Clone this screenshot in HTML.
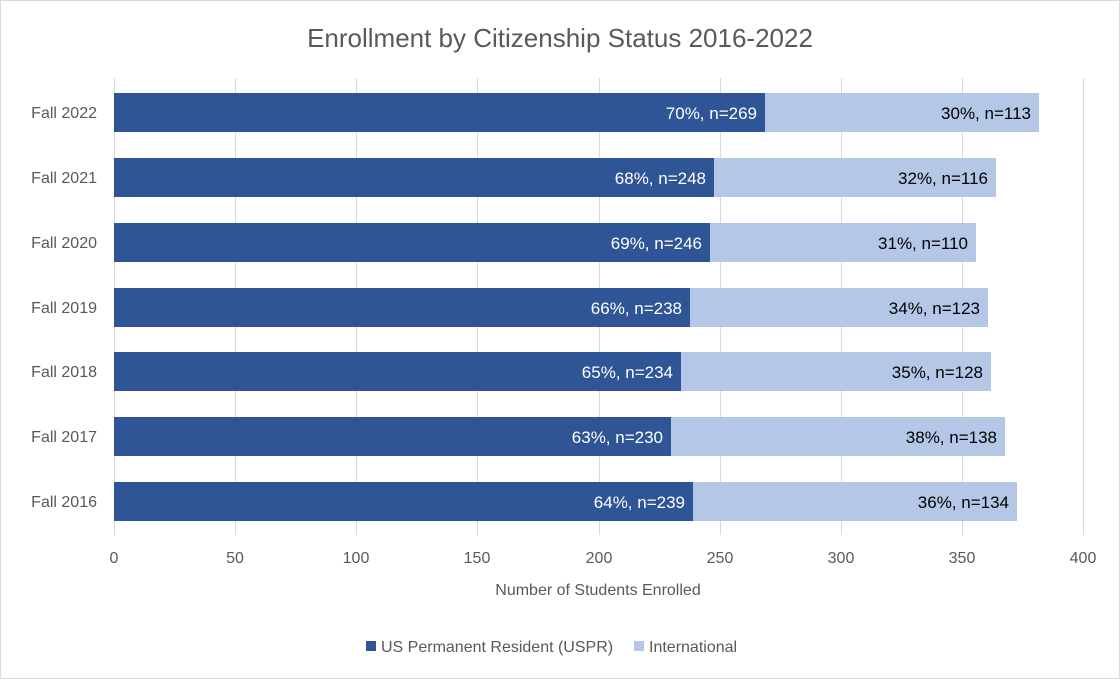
<!DOCTYPE html>
<html><head><meta charset="utf-8"><style>
body{margin:0;background:#fff;}
svg text{font-family:"Liberation Sans",Calibri,sans-serif;}
</style></head><body>
<svg width="1120" height="679" xmlns="http://www.w3.org/2000/svg">
<rect x="0.5" y="0.5" width="1119" height="678" fill="#fff" stroke="#d9d9d9"/>
<text x="560" y="47" font-size="26" fill="#595959" text-anchor="middle">Enrollment by Citizenship Status 2016-2022</text>
<g stroke="#d9d9d9" stroke-width="1">
<line x1="114.5" y1="78" x2="114.5" y2="535"/>
<line x1="235.5" y1="78" x2="235.5" y2="535"/>
<line x1="356.5" y1="78" x2="356.5" y2="535"/>
<line x1="477.5" y1="78" x2="477.5" y2="535"/>
<line x1="599.5" y1="78" x2="599.5" y2="535"/>
<line x1="720.5" y1="78" x2="720.5" y2="535"/>
<line x1="841.5" y1="78" x2="841.5" y2="535"/>
<line x1="962.5" y1="78" x2="962.5" y2="535"/>
<line x1="1083.5" y1="78" x2="1083.5" y2="535"/>
</g>
<g font-size="16" fill="#595959" text-anchor="middle">
<text x="114" y="563">0</text><text x="235" y="563">50</text><text x="356" y="563">100</text><text x="477" y="563">150</text><text x="599" y="563">200</text><text x="720" y="563">250</text><text x="841" y="563">300</text><text x="962" y="563">350</text><text x="1083" y="563">400</text>
<text x="598" y="595">Number of Students Enrolled</text>
</g>
<g font-size="16" fill="#595959" text-anchor="end">
<text x="97" y="118">Fall 2022</text><text x="97" y="183">Fall 2021</text><text x="97" y="248">Fall 2020</text><text x="97" y="313">Fall 2019</text><text x="97" y="377">Fall 2018</text><text x="97" y="442">Fall 2017</text><text x="97" y="507">Fall 2016</text>
</g>
<g>
<rect x="114" y="93" width="651" height="39" fill="#2F5597"/><rect x="765" y="93" width="274" height="39" fill="#B4C7E7"/>
<rect x="114" y="158" width="600" height="39" fill="#2F5597"/><rect x="714" y="158" width="282" height="39" fill="#B4C7E7"/>
<rect x="114" y="223" width="596" height="39" fill="#2F5597"/><rect x="710" y="223" width="266" height="39" fill="#B4C7E7"/>
<rect x="114" y="288" width="576" height="39" fill="#2F5597"/><rect x="690" y="288" width="298" height="39" fill="#B4C7E7"/>
<rect x="114" y="352" width="567" height="39" fill="#2F5597"/><rect x="681" y="352" width="310" height="39" fill="#B4C7E7"/>
<rect x="114" y="417" width="557" height="39" fill="#2F5597"/><rect x="671" y="417" width="334" height="39" fill="#B4C7E7"/>
<rect x="114" y="482" width="579" height="39" fill="#2F5597"/><rect x="693" y="482" width="324" height="39" fill="#B4C7E7"/>
</g>
<g font-size="17" fill="#fff" text-anchor="end">
<text x="757" y="119">70%, n=269</text><text x="706" y="184">68%, n=248</text><text x="702" y="249">69%, n=246</text><text x="682" y="314">66%, n=238</text><text x="673" y="378">65%, n=234</text><text x="663" y="443">63%, n=230</text><text x="685" y="508">64%, n=239</text>
</g>
<g font-size="17" fill="#000" text-anchor="end">
<text x="1031" y="119">30%, n=113</text><text x="988" y="184">32%, n=116</text><text x="968" y="249">31%, n=110</text><text x="980" y="314">34%, n=123</text><text x="983" y="378">35%, n=128</text><text x="997" y="443">38%, n=138</text><text x="1009" y="508">36%, n=134</text>
</g>
<rect x="366" y="641" width="10" height="10" fill="#2F5597"/>
<text x="381" y="652" font-size="16" fill="#595959">US Permanent Resident (USPR)</text>
<rect x="634" y="641" width="10" height="10" fill="#B4C7E7"/>
<text x="649" y="652" font-size="16" fill="#595959">International</text>
</svg>
</body></html>
